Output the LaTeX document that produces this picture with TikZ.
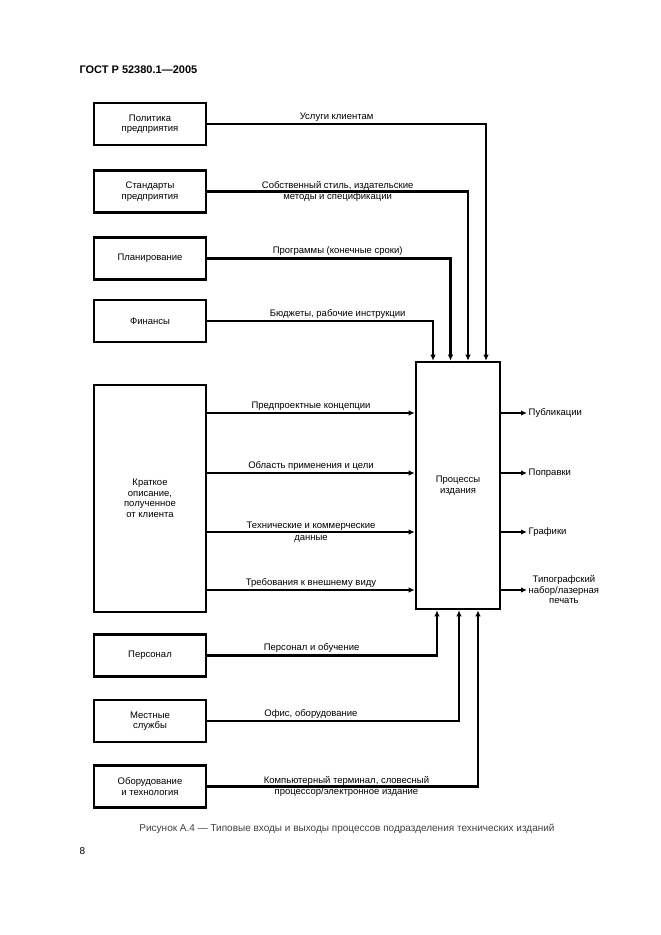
\documentclass[tikz,border=0pt]{standalone}
\usepackage{fontspec}
\setmainfont{Liberation Sans}
\usetikzlibrary{arrows.meta}

\begin{document}
\begin{tikzpicture}[x=1pt,y=-1pt,
  box/.style={draw,line width=2.6pt,inner sep=0pt,minimum width=112pt,minimum height=42pt,
    font=\fontsize{9.5}{10.5}\selectfont,align=center},
  lbl/.style={font=\fontsize{9.5}{10.5}\selectfont,align=center,inner sep=1.5pt},
  link/.style={line width=2.5pt,-{Latex[length=6pt,width=5.5pt]}}]
\useasboundingbox (0,0) rectangle (661,935);
\node[font=\bfseries\fontsize{11}{13}\selectfont,anchor=west] (head) at (76,70) {ГОСТ Р 52380.1—2005};
% left column
\node[box] (polit) at (150,124) {Политика\\предприятия};
\node[box] (stand) at (150,191.5) {Стандарты\\предприятия};
\node[box] (plan) at (150,258.5) {Планирование};
\node[box] (fin) at (150,321) {Финансы};
\node[box,minimum height=227pt] (brief) at (150,498.5) {Краткое\\описание,\\полученное\\от клиента};
\node[box] (pers) at (150,655.5) {Персонал};
\node[box] (serv) at (150,721) {Местные\\службы};
\node[box] (equip) at (150,786.5) {Оборудование\\и технология};
% process
\node[box,minimum width=84pt,minimum height=247pt] (proc) at (458,485.5) {Процессы\\издания};
% controls from above
\draw[link] (polit.east) -| ([xshift=28pt]proc.north) node[lbl,pos=0.232,above] {Услуги клиентам};
\draw[link] (stand.east) -| ([xshift=10pt]proc.north) node[lbl,pos=0.25] {Собственный стиль, издательские\\[1pt]методы и спецификации};
\draw[link] (plan.east) -| ([xshift=-7.5pt]proc.north) node[lbl,pos=0.268,above] {Программы (конечные сроки)};
\draw[link] (fin.east) -| ([xshift=-25pt]proc.north) node[lbl,pos=0.289,above] {Бюджеты, рабочие инструкции};
% inputs
\foreach \y/\txt in {413/{Предпроектные концепции},473/{Область применения и цели},590/{Требования к внешнему виду}}
  \draw[link] (brief.east |- 0,\y) -- (proc.west |- 0,\y) node[lbl,midway,above] {\txt};
\draw[link] (brief.east |- 0,532) -- (proc.west |- 0,532) node[lbl,midway] {Технические и коммерческие\\[1pt]данные};
% outputs
\node[lbl,anchor=west] (publ) at (527,413) {Публикации};
\node[lbl,anchor=west] (corr) at (527,473) {Поправки};
\node[lbl,anchor=west] (graph) at (527,532) {Графики};
\node[lbl,anchor=west] (print) at (527,590) {Типографский\\набор/лазерная\\печать};
\foreach \out in {publ,corr,graph,print}
  \draw[link] (proc.east |- \out.west) -- (\out.west);
% mechanisms from below
\draw[link] (pers.east) -| ([xshift=-21pt]proc.south) node[lbl,pos=0.227,above] {Персонал и обучение};
\draw[link] (serv.east) -| ([xshift=1pt]proc.south) node[lbl,pos=0.206,above] {Офис, оборудование};
\draw[link] (equip.east) -| ([xshift=20pt]proc.south) node[lbl,pos=0.257] {Компьютерный терминал, словесный\\[1pt]процессор/электронное издание};
\node[font=\fontsize{10}{12}\selectfont,text=black!75] (cap) at (347,829) {Рисунок А.4 — Типовые входы и выходы процессов подразделения технических изданий};
\node[font=\fontsize{10}{12}\selectfont,anchor=west] (page) at (76,851) {8};
\end{tikzpicture}
\end{document}
